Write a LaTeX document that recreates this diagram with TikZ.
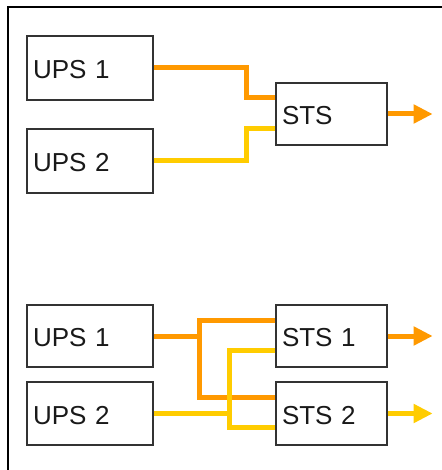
\documentclass[tikz,border=0pt]{standalone}
\usepackage{fontspec}
\setmainfont{Liberation Sans}
\usetikzlibrary{arrows.meta}
\definecolor{orng}{HTML}{FF9900}
\definecolor{yelw}{HTML}{FFCC00}
\definecolor{boxline}{HTML}{333333}
\begin{document}
\begin{tikzpicture}[x=1pt,y=-1pt,
  box/.style={draw=boxline,line width=1.3pt,rectangle,inner xsep=6pt,inner ysep=0pt,
    text width=#1,align=left,minimum height=63pt,text height=21pt,text depth=0pt,
    font=\fontsize{26}{26}\selectfont,text=black!90},
  box/.default=114pt,
  owire/.style={draw=orng,line width=5pt},
  ywire/.style={draw=yelw,line width=5pt},
  tip/.style={-{Triangle[length=19pt,width=18pt]}}]
\useasboundingbox (0,0) rectangle (441,470);
% frame (partly visible)
\draw[line width=2.4pt] (8,480) -- (8,7) -- (450,7);

% top diagram
\node[box,minimum height=64pt] (a1) at (90,68) {UPS 1};
\node[box,minimum height=64pt] (a2) at (90,161) {UPS 2};
\node[box=99pt,minimum height=62pt] (sts) at (331.5,114) {STS};
\coordinate (ka) at (246,68);
\coordinate (kb) at (246,161);
\draw[owire] (a1.east) -- (ka) |- ([yshift=16pt]sts.west);
\draw[ywire] (a2.east) -- (kb) |- ([yshift=-15pt]sts.west);
\draw[owire,tip,fill=orng] (sts.east) -- ++(45,0);

% bottom diagram
\node[box,minimum height=62pt] (b1) at (90,336) {UPS 1};
\node[box,minimum height=63pt] (b2) at (90,413.5) {UPS 2};
\node[box=99pt,minimum height=62pt] (s1) at (331.5,336) {STS 1};
\node[box=99pt,minimum height=63pt] (s2) at (331.5,413.5) {STS 2};
\coordinate (jo) at (199,336);
\coordinate (jy) at (229,413.5);
\draw[owire] ([yshift=16pt]s1.west) -| (jo) |- ([yshift=16pt]s2.west);
\draw[owire] (b1.east) -- (jo);
\draw[ywire] ([yshift=-14pt]s1.west) -| (jy) |- ([yshift=-14pt]s2.west);
\draw[ywire] (b2.east) -- (jy);
\draw[owire,tip,fill=orng] (s1.east) -- ++(45,0);
\draw[ywire,tip,fill=yelw] (s2.east) -- ++(45,0);
\end{tikzpicture}
\end{document}
